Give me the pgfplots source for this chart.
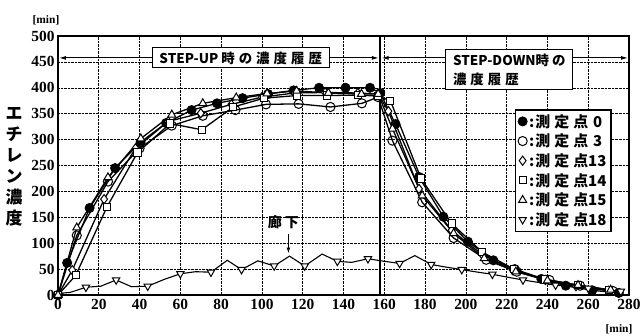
\documentclass[border=0pt]{standalone}
\usepackage{fontspec}
\setmainfont{Liberation Serif}
\newfontfamily\jp{Noto Sans CJK JP}
\usepackage{pgfplots}
\pgfplotsset{compat=1.18}
\usetikzlibrary{arrows.meta}
\pgfplotstableread{
x y
0 0
4.5 62
15.5 168
28 245
40.5 295
53 332
65.5 357
78 370
90.5 380
103 388
115.5 395
128 400
141 400
153 400
158 390
165.5 330
177 228
189 151
201 103
213.5 67
224 50
237 31
249 18
262 9
275 4
}\sZero
\pgfplotstableread{
x y
0 0
9.2 115
24.5 219
40 283
55.8 327
71 346
87 357
102 368
118 369
133.6 363
149 370
157 382
164 298
178.6 179
194 110
210 68
225 45
241 29
256 18
272 8
}\sThree
\pgfplotstableread{
x y
0 0
7 48
22.6 185
38 283
54 335
70 351
85 368
100 382
116 390
131 391
147 390
157 388
162 355
177 205
193 125
208 78
223 48
239 29
254 17
270 8
}\sThirteen
\pgfplotstableread{
x y
0 0
8.7 38
24 170
39 275
55 331
70.5 319
86 363
101 380
117 385
132 385
147 386
157 384
163 375
178 225
193 138
208 83
223.5 50
239 30
255 19
270 10
}\sFourteen
\pgfplotstableread{
x y
0 0
9.2 130
24.5 227
40.6 302
55.8 348
71 370
87.4 381
102.5 389
117 394
132.6 390
148.8 388
157 388
164 321
178.6 192
194 119
209 71
224.5 45
240 28
255 19
271 10
}\sFifteen
\pgfplotstableread{
x y
0 3
6 5
13.7 15
21 17
28.5 29
36 16
44 17
52 30
60 41
67.5 45
75 44
83 67
90 49
98 66
106 56
113.5 75
121 56
129.5 79
137 65
144 63
152 70
160 65
167.5 61
175 76
183 59
190 54
198 49
206 44
213 40
221 34
228 29
236 24
244 19
252 16
260 13
268 10
276 7
}\sEighteen
\begin{document}
\begin{tikzpicture}
\useasboundingbox (0,0) rectangle (642bp,336bp);
\begin{axis}[
  at={(58bp,41bp)}, anchor=south west,
  scale only axis, width=571bp, height=259bp,
  xmin=0, xmax=280, ymin=0, ymax=500,
  xtick={0,20,...,280}, ytick={0,50,...,500},
  major tick length=0pt,
  grid=major,
  major grid style={densely dotted, black, line width=0.6pt},
  axis line style={line width=2.2pt},
  /pgf/number format/assume math mode=true,
  tick label style={font=\bfseries\fontsize{15.5}{15.5}\selectfont},
  xticklabel style={yshift=-1bp},
  yticklabel style={xshift=0bp},
  clip=false,
  every axis plot/.append style={black, line width=1.3pt},
  legend cell align=left,
  legend image code/.code={\draw[#1, mark repeat=1, mark phase=1] plot[only marks] coordinates {(0.2cm,0cm)};},
  legend style={at={(0.800,0.718)}, anchor=north west, draw=black, line width=1.5pt,
     font=\jp\bfseries\fontsize{15}{15}\selectfont, row sep=1.4bp, inner sep=2.5bp,
     fill=white},
]
\draw[line width=1.8pt] (axis cs:158,0) -- (axis cs:158,500);
\addplot[mark=*, mark size=4.6pt, mark options={fill=black, line width=0.8pt}] table {\sZero};
\addlegendentry{:\hspace{1pt}測\hspace{4pt}定\hspace{4pt}点\hspace{5pt}0}
\addplot[mark=o, mark size=4.6pt, mark options={fill=white, line width=1pt}] table {\sThree};
\addlegendentry{:\hspace{1pt}測\hspace{4pt}定\hspace{4pt}点\hspace{5pt}3}
\addplot[mark=diamond*, mark size=4.6pt, mark options={fill=white, line width=1pt}] table {\sThirteen};
\addlegendentry{:\hspace{1pt}測\hspace{4pt}定\hspace{4pt}点13}
\addplot[mark=square*, mark size=3.6pt, mark options={fill=white, line width=1pt}] table {\sFourteen};
\addlegendentry{:\hspace{1pt}測\hspace{4pt}定\hspace{4pt}点14}
\addplot[mark=triangle*, mark size=4.6pt, mark options={fill=white, line width=1pt}] table {\sFifteen};
\addlegendentry{:\hspace{1pt}測\hspace{4pt}定\hspace{4pt}点15}
\addplot[line width=1.1pt, mark=triangle*, mark size=4.3pt, mark repeat=2, mark phase=3, mark options={fill=white, line width=1pt, rotate=180}] table {\sEighteen};
\addlegendentry{:\hspace{1pt}測\hspace{4pt}定\hspace{4pt}点18}
% annotations
\node[draw=black, line width=1pt, fill=white, inner sep=2bp, minimum width=177bp, minimum height=20bp,
  font=\jp\bfseries\fontsize{13.5}{13.5}\selectfont] at (axis cs:89.6,457.7)
  {STEP-UP\hspace{3pt}時\hspace{4pt}の\hspace{4pt}濃\hspace{4pt}度\hspace{4pt}履\hspace{4pt}歴};
\draw[line width=1pt, -{Latex[length=7pt,width=4pt]}] (axis cs:46.2,457.7) -- (axis cs:0.5,457.7);
\draw[line width=1pt, -{Latex[length=7pt,width=4pt]}] (axis cs:133.1,457.7) -- (axis cs:157.3,457.7);
\node[draw=black, line width=1pt, fill=white, inner sep=2bp, minimum width=127bp, minimum height=40bp,
  align=left, font=\jp\bfseries\fontsize{13.5}{19}\selectfont] at (axis cs:221.3,434.6)
  {STEP-DOWN時\hspace{3pt}の\\濃\hspace{4pt}度\hspace{4pt}履\hspace{4pt}歴};
\draw[line width=1pt, -{Latex[length=7pt,width=4pt]}] (axis cs:190,457.7) -- (axis cs:158.7,457.7);
\draw[line width=1pt, -{Latex[length=7pt,width=4pt]}] (axis cs:252.5,457.7) -- (axis cs:279.5,457.7);
\node[font=\jp\bfseries\fontsize{14}{14}\selectfont] at (axis cs:110.5,140) {廊\hspace{3pt}下};
\draw[line width=1.3pt, -{Latex[length=6pt,width=4pt]}] (axis cs:113,118) -- (axis cs:113,80);
\end{axis}
\node[font=\jp\bfseries\fontsize{17}{21}\selectfont, align=center] at (14bp,169bp) {エ\\チ\\レ\\ン\\濃\\度};
\node[font=\bfseries\fontsize{11.5}{11.5}\selectfont] at (46bp,316bp) {[min]};
\node[font=\bfseries\fontsize{11.5}{11.5}\selectfont] at (619bp,7bp) {[min]};
\end{tikzpicture}
\end{document}
